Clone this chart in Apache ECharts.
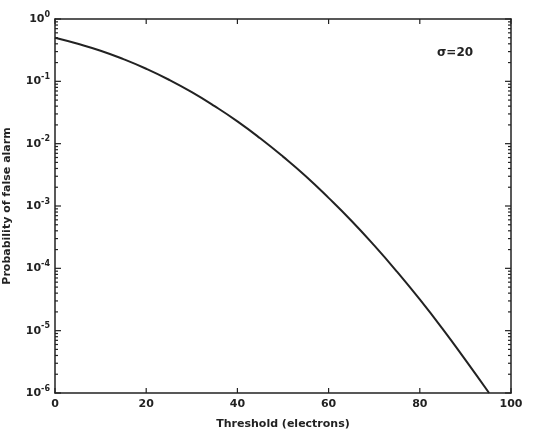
<!DOCTYPE html>
<html>
<head>
<meta charset="utf-8">
<script src="https://cdn.jsdelivr.net/npm/echarts@6/dist/echarts.min.js"></script>
<style>html,body{margin:0;padding:0;background:#fff}#c{width:541px;height:436px}</style>
</head>
<body>
<div id="c"></div>
<script>
// Threshold (electrons)
const thresholds = [0, 5, 10, 15, 20, 25, 30, 35, 40, 45, 50, 55, 60, 65, 70, 75, 80, 85, 90, 95.2];
// Probability of false alarm
const pfa = [0.5, 0.40, 0.31, 0.227, 0.159, 0.106, 0.067, 0.040, 0.0228, 0.0122, 0.0062, 0.0030, 0.00135, 0.00058, 0.000233, 0.0000884, 0.0000317, 0.0000107, 0.0000034, 0.000001];
const xTicks = [0, 20, 40, 60, 80, 100];
const yDecades = [1e-6, 1e-5, 1e-4, 1e-3, 1e-2, 1e-1, 1];
const yMinorMultipliers = [2, 3, 4, 5, 6, 7, 8, 9];
const annotation = 'σ=20';

const yMinor = [];
yDecades.slice(0, -1).forEach(d => yMinorMultipliers.forEach(m => yMinor.push(m * d)));

const font = 'DejaVu Sans';
const ink = '#222';
const chart = echarts.init(document.getElementById('c'), null, {renderer: 'canvas'});

function tickLine(x1, y1, x2, y2) {
  return {type: 'line', shape: {x1, y1, x2, y2}, style: {stroke: ink, lineWidth: 1.2}};
}

function tickSeries(values, kind, len) {
  return {
    type: 'custom', xAxisIndex: 0, yAxisIndex: 0, silent: true, clip: false, z: 5,
    data: values.map(v => [v]),
    renderItem: (params, api) => {
      const v = api.value(0);
      if (kind === 'x') {
        const b = api.coord([v, 1e-6]);
        const t = api.coord([v, 1]);
        return {type: 'group', children: [tickLine(b[0], b[1], b[0], b[1] - len), tickLine(t[0], t[1], t[0], t[1] + len)]};
      }
      const l = api.coord([0, v]);
      const r = api.coord([100, v]);
      return {type: 'group', children: [tickLine(l[0], l[1], l[0] + len, l[1]), tickLine(r[0], r[1], r[0] - len, r[1])]};
    }
  };
}

chart.setOption({
  animation: false,
  backgroundColor: '#fff',
  grid: {left: 55, right: 30, top: 19, bottom: 43, containLabel: false, outerBoundsMode: 'none'},
  xAxis: [{
    type: 'value', min: 0, max: 100, interval: 20, position: 'bottom',
    name: 'Threshold (electrons)', nameLocation: 'middle', nameGap: 26,
    nameTextStyle: {fontFamily: font, fontWeight: 'bold', fontSize: 11, color: ink},
    axisLine: {show: true, onZero: false, lineStyle: {color: ink, width: 1.5}},
    axisTick: {show: false},
    axisLabel: {show: true, margin: 6, fontFamily: font, fontWeight: 'bold', fontSize: 11, color: ink},
    splitLine: {show: false}
  }, {
    type: 'value', min: 0, max: 100, interval: 20, position: 'top',
    axisLine: {show: true, onZero: false, lineStyle: {color: ink, width: 1.5}},
    axisTick: {show: false}, axisLabel: {show: false}, splitLine: {show: false}
  }],
  yAxis: [{
    type: 'log', logBase: 10, min: 1e-6, max: 1, position: 'left',
    name: 'Probability of false alarm', nameLocation: 'middle', nameGap: 42,
    nameTextStyle: {fontFamily: font, fontWeight: 'bold', fontSize: 11, color: ink},
    axisLine: {show: true, onZero: false, lineStyle: {color: ink, width: 1.5}},
    axisTick: {show: false},
    axisLabel: {
      show: true, margin: 5,
      formatter: v => '{b|10}{s|' + Math.round(Math.log10(v)) + '}',
      rich: {
        b: {fontFamily: font, fontWeight: 'bold', fontSize: 11, color: ink},
        s: {fontFamily: font, fontWeight: 'bold', fontSize: 8, color: ink, verticalAlign: 'top', padding: [0, 0, 9, 0]}
      }
    },
    splitLine: {show: false}
  }, {
    type: 'log', logBase: 10, min: 1e-6, max: 1, position: 'right',
    axisLine: {show: true, onZero: false, lineStyle: {color: ink, width: 1.5}},
    axisTick: {show: false}, axisLabel: {show: false}, splitLine: {show: false}
  }],
  series: [{
    type: 'line',
    xAxisIndex: 0, yAxisIndex: 0,
    data: thresholds.map((x, i) => [x, pfa[i]]),
    smooth: true,
    showSymbol: false,
    lineStyle: {color: ink, width: 2}
  },
    tickSeries(xTicks, 'x', 5),
    tickSeries(yDecades, 'y', 6),
    tickSeries(yMinor, 'y', 3)
  ],
  graphic: [{
    type: 'text', left: 437, top: 47,
    style: {text: annotation, fontFamily: font, fontWeight: 'bold', fontSize: 12, fill: ink}
  }]
});
</script>
</body>
</html>
